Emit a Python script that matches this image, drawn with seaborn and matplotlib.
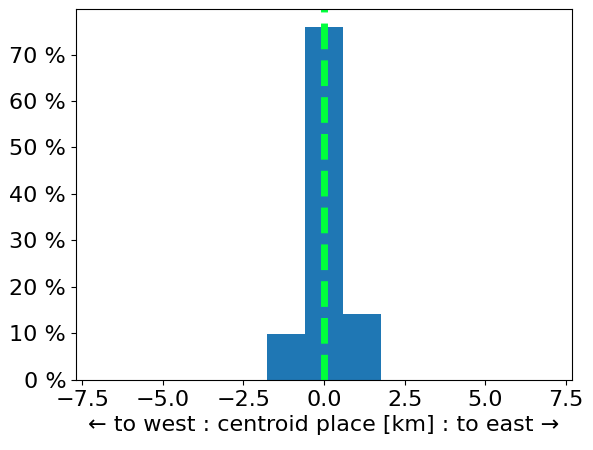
import numpy as np
import pandas as pd
import matplotlib
matplotlib.use("Agg")
import matplotlib.pyplot as plt
from matplotlib.ticker import FuncFormatter
import seaborn as sns

# Bin layout and share of places per bin (percent)
bin_edges = list(np.linspace(-7.7, 7.7, 14))
bin_centers = [-1.185, 0.0, 1.185]
percents = [9.8, 76.0, 14.2]

df = pd.DataFrame({"offset": bin_centers, "pct": percents})

fig, ax = plt.subplots(figsize=(5.93, 4.5), dpi=100)

sns.histplot(data=df, x="offset", weights="pct", bins=bin_edges,
             color="#1f77b4", alpha=1, linewidth=0, ax=ax)

ax.axvline(0, color="#00ff3c", linestyle="--", linewidth=5)

ax.set_xlim(bin_edges[0], bin_edges[-1])
ax.set_ylim(0, max(percents) * 1.05)
ax.set_yticks(np.arange(0, 80, 10))
ax.yaxis.set_major_formatter(FuncFormatter(lambda v, p: f"{v:.0f} %"))
ax.set_xticks([-7.5, -5.0, -2.5, 0.0, 2.5, 5.0, 7.5])
ax.tick_params(labelsize=16)
ax.set_ylabel("")
ax.set_xlabel("← to west : centroid place [km] : to east →", fontsize=16)

plt.subplots_adjust(left=0.128, right=0.965, top=0.98, bottom=0.156)
plt.savefig("out.png", dpi=100)
